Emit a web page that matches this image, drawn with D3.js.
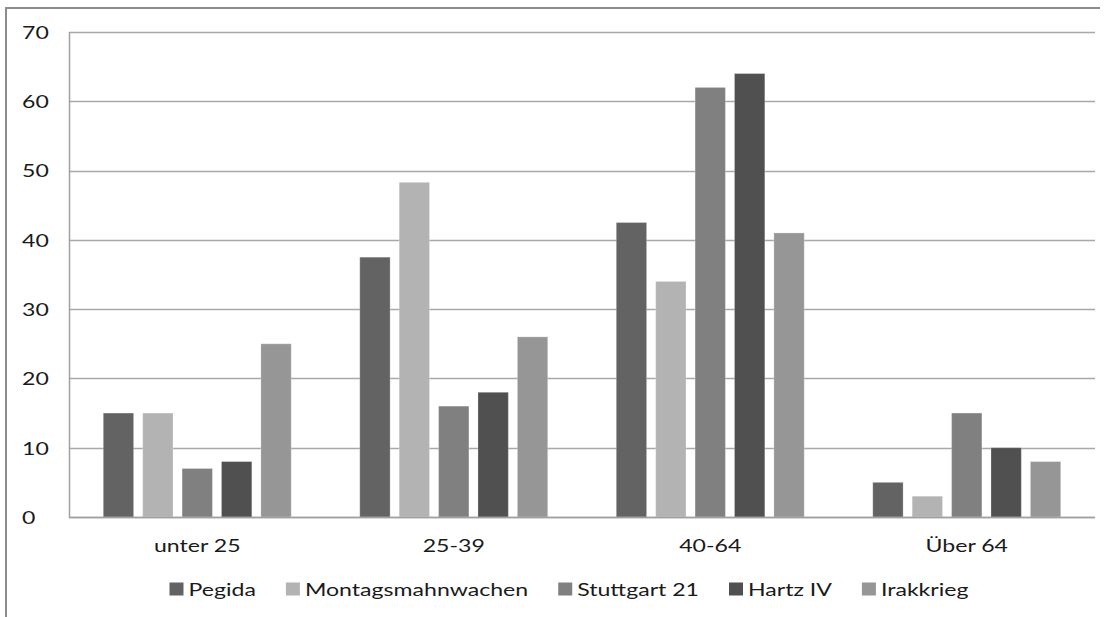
<!DOCTYPE html>
<html>
<head>
<meta charset="utf-8">
<script src="https://cdn.jsdelivr.net/npm/d3@7"></script>
<style>
  html, body { margin: 0; padding: 0; background: #fff; }
  svg { display: block; }
  text { font-family: Lato, "Open Sans", sans-serif; fill: #1a1a1a; }
</style>
</head>
<body>
<svg id="chart" width="1109" height="617"></svg>
<script>
const categories = ["unter 25", "25-39", "40-64", "Über 64"];
const seriesNames = ["Pegida", "Montagsmahnwachen", "Stuttgart 21", "Hartz IV", "Irakkrieg"];
const pegida = [15, 37.5, 42.5, 5];
const montagsmahnwachen = [15, 48.3, 34, 3];
const stuttgart21 = [7, 16, 62, 15];
const hartz4 = [8, 18, 64, 10];
const irakkrieg = [25, 26, 41, 8];
const yTicks = [0, 10, 20, 30, 40, 50, 60, 70];
const seriesColors = ["#636363", "#b3b3b3", "#808080", "#505050", "#969696"];

const seriesValues = [pegida, montagsmahnwachen, stuttgart21, hartz4, irakkrieg];
const data = categories.map((c, i) => ({
  cat: c,
  values: seriesNames.map((s, j) => ({ series: s, value: seriesValues[j][i], color: seriesColors[j] }))
}));

const svg = d3.select("#chart");
const SX = 1.32;
const fontSize = 17.5;

// frame
svg.append("line").attr("x1", 6).attr("x2", 6).attr("y1", 7).attr("y2", 617)
  .attr("stroke", "#8c8c8c").attr("stroke-width", 2);
svg.append("line").attr("x1", 6).attr("x2", 1100).attr("y1", 8).attr("y2", 8)
  .attr("stroke", "#8c8c8c").attr("stroke-width", 2);

const plotLeft = 69, plotRight = 1095, plotTop = 32, plotBottom = 517;

const x0 = d3.scaleBand().domain(categories).range([plotLeft, plotRight]).padding(0);
const x1 = d3.scaleBand().domain(seriesNames).range([0, x0.bandwidth()])
  .paddingInner(0.23).paddingOuter(0.87);
const y = d3.scaleLinear().domain([0, 70]).range([plotBottom, plotTop]);

// gridlines
svg.append("g").selectAll("line").data(yTicks).join("line")
  .attr("x1", plotLeft).attr("x2", plotRight)
  .attr("y1", d => Math.round(y(d)) + 0.5).attr("y2", d => Math.round(y(d)) + 0.5)
  .attr("stroke", "#a8a8a8").attr("stroke-width", 1.5);

// y axis line
svg.append("line").attr("x1", plotLeft + 0.5).attr("x2", plotLeft + 0.5)
  .attr("y1", plotTop).attr("y2", plotBottom + 1)
  .attr("stroke", "#a0a0a0").attr("stroke-width", 1.5);

// bars
const groups = svg.append("g").selectAll("g").data(data).join("g")
  .attr("transform", d => `translate(${x0(d.cat)},0)`);
groups.selectAll("rect").data(d => d.values).join("rect")
  .attr("x", d => x1(d.series))
  .attr("width", x1.bandwidth())
  .attr("y", d => y(d.value))
  .attr("height", d => y(0) - y(d.value))
  .attr("fill", d => d.color)
  .attr("stroke", "rgba(255,255,255,0.25)")
  .attr("stroke-width", 1);

// baseline
svg.append("line").attr("x1", plotLeft).attr("x2", plotRight)
  .attr("y1", plotBottom + 0.5).attr("y2", plotBottom + 0.5)
  .attr("stroke", "#a0a0a0").attr("stroke-width", 1.5);

// y tick labels (left aligned)
svg.append("g").selectAll("g").data(yTicks).join("g")
  .attr("transform", d => `translate(22,${y(d)}) scale(${SX},1)`)
  .append("text")
  .attr("font-size", fontSize)
  .attr("dominant-baseline", "central")
  .text(d => d);

// category labels
svg.append("g").selectAll("g").data(categories).join("g")
  .attr("transform", d => `translate(${x0(d) + x0.bandwidth() / 2},545) scale(${SX},1)`)
  .append("text")
  .attr("font-size", fontSize)
  .attr("text-anchor", "middle")
  .attr("dominant-baseline", "central")
  .text(d => d);

// legend
const legend = svg.append("g");
const items = legend.selectAll("g").data(seriesNames).join("g");
items.append("rect").attr("width", 14).attr("height", 13).attr("y", -6.5)
  .attr("fill", (d, i) => seriesColors[i]);
items.append("g").attr("transform", `translate(19,0) scale(${SX},1)`)
  .append("text").attr("font-size", fontSize).attr("dominant-baseline", "central")
  .text(d => d);
const gap = 30;
let cx = 0;
const positions = [];
items.each(function (d) {
  const w = d3.select(this).select("text").node().getComputedTextLength() * SX;
  positions.push(cx);
  cx += 19 + w + gap;
});
const totalW = cx - gap;
const startX = 569 - totalW / 2;
items.attr("transform", (d, i) => `translate(${startX + positions[i]},589)`);
</script>
</body>
</html>
